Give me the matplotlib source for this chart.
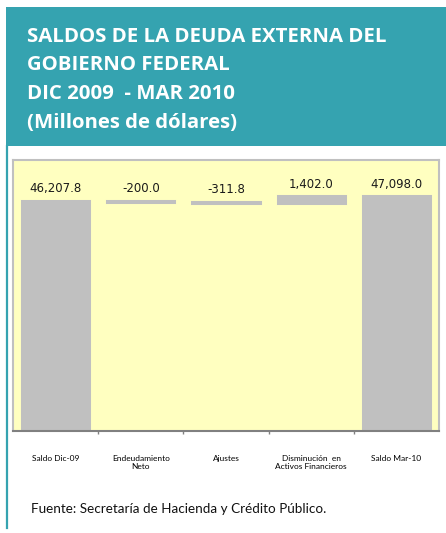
import matplotlib
matplotlib.use("Agg")
import matplotlib.pyplot as plt
from matplotlib.patches import Rectangle
from matplotlib.lines import Line2D

# Datos del gráfico (millones de dólares)
categorias = ["Saldo Dic-09", "Endeudamiento\nNeto", "Ajustes",
              "Disminución  en\nActivos Financieros", "Saldo Mar-10"]
valores = [46207.8, -200.0, -311.8, 1402.0, 47098.0]
etiquetas = ["46,207.8", "-200.0", "-311.8", "1,402.0", "47,098.0"]
titulo = ["SALDOS DE LA DEUDA EXTERNA DEL", "GOBIERNO FEDERAL",
          "DIC 2009  - MAR 2010", "(Millones de dólares)"]
fuente = "Fuente: Secretaría de Hacienda y Crédito Público."

W, H = 446, 533
TEAL = "#35A3B0"
GRIS = "#C0C0C0"


def fx(px):
    return px / W


def fy(py):
    return 1 - py / H


fig = plt.figure(figsize=(W / 100, H / 100), dpi=100)
fig.patch.set_facecolor("white")

# Encabezado
fig.patches.append(Rectangle((fx(6), fy(146)), 1 - fx(6), fy(7) - fy(146),
                             transform=fig.transFigure, facecolor=TEAL,
                             edgecolor="none", zorder=0))
fig.lines.append(Line2D([fx(7), fx(7)], [fy(528), fy(146)],
                        transform=fig.transFigure, color=TEAL, lw=1.6))
for linea, base in zip(titulo, [42, 70, 99, 128]):
    fig.text(fx(27), fy(base), linea, color="white", fontsize=14.7,
             fontweight="bold", family="Open Sans", va="baseline", ha="left")

# Área del gráfico
ax = fig.add_axes([fx(13), fy(431), fx(439) - fx(13), fy(160) - fy(431)])
ax.set_facecolor("#FFFFC0")

# Cascada: barras inicial/final desde cero, intermedias flotantes
bases, alturas, topes = [], [], []
acum = 0.0
for i, v in enumerate(valores):
    if i == 0 or i == len(valores) - 1:
        bases.append(0.0)
        alturas.append(v)
        topes.append(v)
        acum = v
    else:
        nuevo = acum + v
        bases.append(min(acum, nuevo))
        alturas.append(abs(v))
        topes.append(max(acum, nuevo))
        acum = nuevo

x = list(range(len(categorias)))
ax.bar(x, alturas, bottom=bases, width=0.79, color=GRIS,
       edgecolor=GRIS, linewidth=2.2, zorder=2)

for xi, tope, txt in zip(x, topes, etiquetas):
    ax.annotate(txt, (xi, tope), xytext=(0, 4), textcoords="offset points",
                ha="center", va="bottom", fontsize=8.5, family="DejaVu Sans",
                color="#1a1a1a")

ax.set_xlim(-0.5, len(categorias) - 0.5)
ax.set_ylim(0, 54400)
ax.set_yticks([])
ax.set_xticks(x)
ax.set_xticklabels(categorias, fontsize=6, family="Lato",
                   multialignment="center")
ax.tick_params(axis="x", length=0, pad=17)
ax.set_xticks([i + 0.5 for i in range(len(categorias) - 1)], minor=True)
ax.tick_params(axis="x", which="minor", length=2, color="#808080", width=1)

for lado in ["left", "top", "right"]:
    ax.spines[lado].set_color(GRIS)
    ax.spines[lado].set_linewidth(1.5)
ax.spines["bottom"].set_color("#808080")
ax.spines["bottom"].set_linewidth(1.5)

fig.text(fx(31), fy(513), fuente, fontsize=9.7, family="Lato",
         color="#111111", va="baseline", ha="left")

fig.savefig("out.png", dpi=100, facecolor="white")
